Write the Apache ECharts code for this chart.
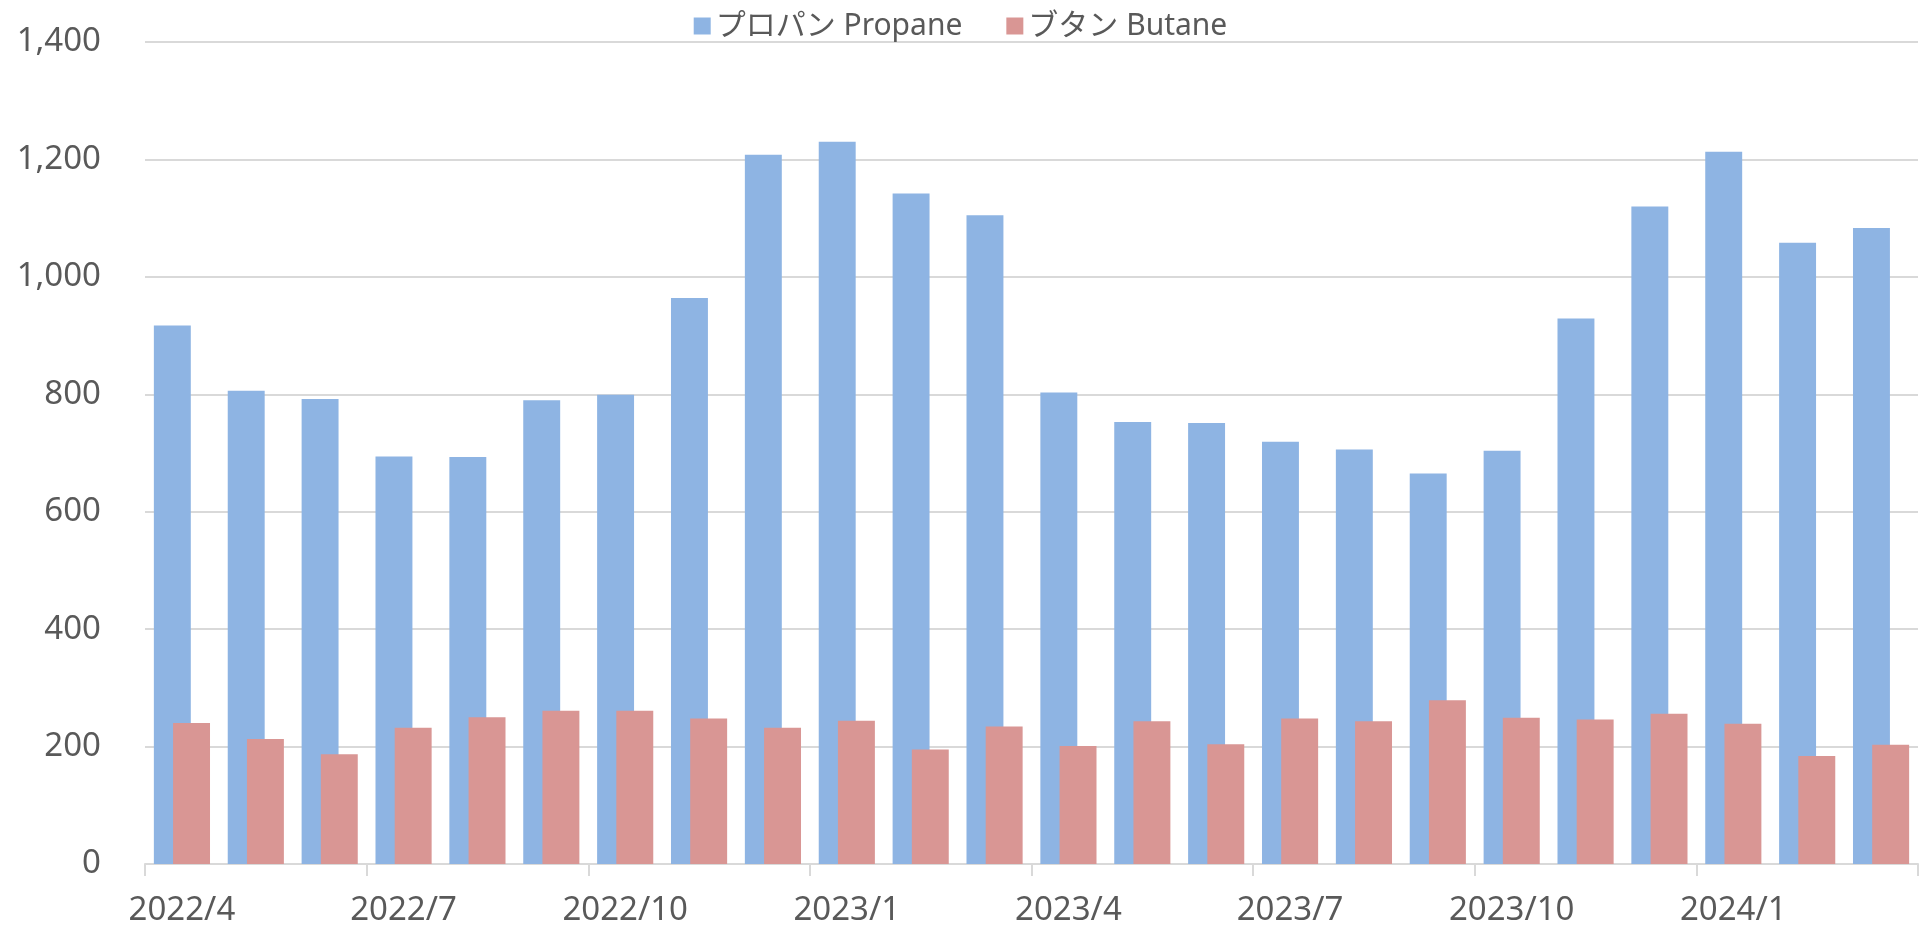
<!DOCTYPE html>
<html>
<head>
<meta charset="utf-8">
<script src="https://cdn.jsdelivr.net/npm/echarts@6/dist/echarts.min.js"></script>
<style>
  html, body { margin: 0; padding: 0; background: #fff; }
  #chart { width: 1921px; height: 928px; }
</style>
</head>
<body>
<div id="chart"></div>
<script>
const months = [
  '2022/4', '2022/5', '2022/6', '2022/7', '2022/8', '2022/9',
  '2022/10', '2022/11', '2022/12', '2023/1', '2023/2', '2023/3',
  '2023/4', '2023/5', '2023/6', '2023/7', '2023/8', '2023/9',
  '2023/10', '2023/11', '2023/12', '2024/1', '2024/2', '2024/3'
];

const propane = [
  917, 806, 792, 694, 693, 790, 799, 964, 1208, 1230, 1142, 1105,
  803, 753, 751, 719, 706, 665, 704, 929, 1120, 1213, 1058, 1083
];

const butane = [
  240, 213, 187, 232, 250, 261, 261, 248, 232, 244, 195, 234,
  201, 243, 204, 248, 243, 279, 249, 246, 256, 239, 184, 203
];

const yTicks = { min: 0, max: 1400, interval: 200 };

const textColor = '#595959';
const gridColor = '#d9d9d9';
const fontFamily = '"Noto Sans", "Noto Sans CJK JP", sans-serif';

const chart = echarts.init(document.getElementById('chart'));

const barDefault = {
  type: 'bar',
  barWidth: '50%',
  barGap: '-48%',
  animation: false
};

chart.setOption({
  animation: false,
  textStyle: { fontFamily: fontFamily },
  color: ['#8eb4e3', '#d99694'],
  legend: {
    top: 6,
    left: 'center',
    icon: 'rect',
    itemWidth: 17,
    itemHeight: 17,
    itemGap: 44,
    textStyle: { color: textColor, fontSize: 30, fontFamily: fontFamily }
  },
  grid: {
    left: 145,
    right: 3,
    top: 42,
    bottom: 64
  },
  xAxis: {
    type: 'category',
    data: months,
    boundaryGap: true,
    axisLine: { lineStyle: { color: gridColor, width: 2 } },
    axisTick: { show: true, interval: 2, length: 12, lineStyle: { color: gridColor, width: 2 } },
    axisLabel: {
      interval: 2,
      margin: 30,
      color: textColor,
      fontSize: 33,
      fontFamily: fontFamily
    },
    splitLine: { show: false }
  },
  yAxis: {
    type: 'value',
    min: yTicks.min,
    max: yTicks.max,
    interval: yTicks.interval,
    axisLine: { show: false },
    axisTick: { show: false },
    axisLabel: {
      margin: 44,
      color: textColor,
      fontSize: 33,
      fontFamily: fontFamily,
      formatter: (v) => v.toLocaleString('en-US')
    },
    splitLine: { lineStyle: { color: gridColor, width: 2 } }
  },
  series: [
    { ...barDefault, name: 'プロパン Propane', data: propane },
    { ...barDefault, name: 'ブタン Butane', data: butane }
  ]
});
</script>
</body>
</html>
